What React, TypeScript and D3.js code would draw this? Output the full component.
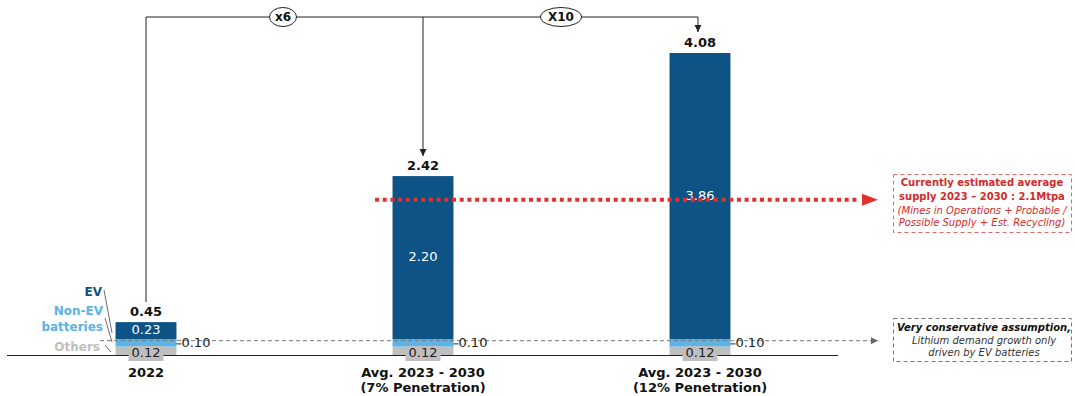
import React from "react";
import * as d3 from "d3";

// Lithium demand (Mt LCE) by segment
const categories = ["2022", "Avg. 2023 - 2030 (7%)", "Avg. 2023 - 2030 (12%)"];
const categoryLines = [["2022"], ["Avg. 2023 - 2030", "(7% Penetration)"], ["Avg. 2023 - 2030", "(12% Penetration)"]];
const others = [0.12, 0.12, 0.12];
const nonEv = [0.1, 0.1, 0.1];
const ev = [0.23, 2.2, 3.86];
const totals = [0.45, 2.42, 4.08];
const supplyLevel = 2.1;
const multipliers = ["x6", "X10"];

const W = 1075;
const H = 396;
const FONT = "'DejaVu Sans', Verdana, sans-serif";
const C_EV = "#0d5386";
const C_NONEV = "#5cb3e4";
const C_OTHERS = "#bfbfbf";
const C_RED = "#e03030";

export default function App() {
  const x = d3.scaleBand<string>().domain(categories).range([7.5, 838.5]).paddingInner(0.78).paddingOuter(0.39);
  const y = d3.scaleLinear().domain([0, 4.08]).range([355.5, 53]);
  const bw = x.bandwidth();
  const cx = (i: number) => (x(categories[i]) as number) + bw / 2;
  const fmt = d3.format(".2f");

  const hLineY = 17;
  const supplyY = y(supplyLevel);
  const dashY = y(others[0] + nonEv[0] * 0.8);

  return (
    <svg width={W} height={H} style={{ position: "absolute", left: 0, top: 0 }} fontFamily={FONT}>
      <defs>
        <marker id="arrowDark" viewBox="0 0 10 10" refX="10" refY="5" markerWidth="7" markerHeight="8" markerUnits="userSpaceOnUse" orient="auto">
          <path d="M0,0 L10,5 L0,10 Z" fill="#222" />
        </marker>
        <marker id="arrowGrey" viewBox="0 0 10 10" refX="10" refY="5" markerWidth="8" markerHeight="7" markerUnits="userSpaceOnUse" orient="auto">
          <path d="M0,0 L10,5 L0,10 Z" fill="#666" />
        </marker>
      </defs>

      {/* stacked bars */}
      {categories.map((c, i) => {
        const x0 = x(c) as number;
        const segs = [
          { v0: 0, v1: others[i], color: C_OTHERS },
          { v0: others[i], v1: others[i] + nonEv[i], color: C_NONEV },
          { v0: others[i] + nonEv[i], v1: others[i] + nonEv[i] + ev[i], color: C_EV },
        ];
        return (
          <g key={c}>
            {segs.map((s, k) => (
              <rect key={k} x={x0} y={y(s.v1)} width={bw} height={y(s.v0) - y(s.v1)} fill={s.color} />
            ))}
          </g>
        );
      })}

      {/* baseline */}
      <line x1={7} x2={838} y1={y(0)} y2={y(0)} stroke="#222" strokeWidth={1} />

      {/* grey dashed reference line */}
      <line x1={100} x2={878} y1={dashY} y2={dashY} stroke="#777" strokeWidth={1} strokeDasharray="4 3" markerEnd="url(#arrowGrey)" />

      {/* segment labels */}
      {categories.map((c, i) => {
        const x0 = x(c) as number;
        const evMid = y(others[i] + nonEv[i] + ev[i] / 2);
        const nonEvMid = y(others[i] + nonEv[i] / 2);
        return (
          <g key={"lab" + c} fontSize={13}>
            <rect x={cx(i) - 17.5} y={346} width={35} height={15} fill={C_OTHERS} />
            <text x={cx(i)} y={353.5} textAnchor="middle" dominantBaseline="middle" fill="#222">{fmt(others[i])}</text>
            <line x1={x0 + bw} x2={x0 + bw + 5} y1={nonEvMid + 1} y2={nonEvMid + 1} stroke="#222" />
            <text x={x0 + bw + 5} y={nonEvMid + 1} dominantBaseline="middle" fill="#222">{fmt(nonEv[i])}</text>
            <text x={cx(i)} y={evMid} textAnchor="middle" dominantBaseline="middle" fill="#fff">{fmt(ev[i])}</text>
            <text x={cx(i)} y={y(totals[i]) - 10} textAnchor="middle" dominantBaseline="middle" fontWeight="bold" fill="#111">{fmt(totals[i])}</text>
          </g>
        );
      })}

      {/* category labels */}
      {categoryLines.map((lines, i) => (
        <text key={"cat" + i} x={cx(i)} y={377} textAnchor="middle" fontSize={13} fontWeight="bold" fill="#111">
          {lines.map((l, k) => (
            <tspan key={k} x={cx(i)} dy={k === 0 ? 0 : 15}>{l}</tspan>
          ))}
        </text>
      ))}

      {/* red dotted supply line */}
      <line x1={375} x2={860} y1={supplyY} y2={supplyY} stroke={C_RED} strokeWidth={4} strokeDasharray="4 3.7" />
      <path d={`M862,${supplyY - 6} L878,${supplyY} L862,${supplyY + 6} Z`} fill={C_RED} />

      {/* growth bracket */}
      <g stroke="#222" strokeWidth={1} fill="none">
        <line x1={cx(0)} x2={cx(2) - 2} y1={hLineY} y2={hLineY} />
        <line x1={cx(0)} x2={cx(0)} y1={hLineY} y2={302} />
        <line x1={cx(1)} x2={cx(1)} y1={hLineY} y2={y(totals[1]) - 20} markerEnd="url(#arrowDark)" />
        <line x1={cx(2) - 2} x2={cx(2) - 2} y1={hLineY} y2={y(totals[2]) - 21} markerEnd="url(#arrowDark)" />
      </g>
      <g fontSize={12} fontWeight="bold" fill="#111">
        <ellipse cx={283} cy={hLineY} rx={13.5} ry={9.5} fill="#fff" stroke="#222" />
        <text x={283} y={hLineY + 0.5} textAnchor="middle" dominantBaseline="middle">{multipliers[0]}</text>
        <ellipse cx={561} cy={hLineY} rx={20.5} ry={9.5} fill="#fff" stroke="#222" />
        <text x={561} y={hLineY + 0.5} textAnchor="middle" dominantBaseline="middle">{multipliers[1]}</text>
      </g>

      {/* segment legend */}
      <g fontSize={12} fontWeight="bold" textAnchor="end">
        <text x={102} y={292} dominantBaseline="middle" fill={C_EV}>EV</text>
        <text x={103} y={311} dominantBaseline="middle" fill={C_NONEV}>Non-EV</text>
        <text x={103} y={327} dominantBaseline="middle" fill={C_NONEV}>batteries</text>
        <text x={100} y={347} dominantBaseline="middle" fill={C_OTHERS}>Others</text>
      </g>
      <g stroke="#444" strokeWidth={0.8}>
        <line x1={104} y1={290} x2={112} y2={333} />
        <line x1={105} y1={318} x2={112} y2={342} />
        <line x1={105} y1={345} x2={111} y2={352} />
      </g>

      {/* supply annotation */}
      <rect x={893.5} y={174.5} width={178} height={58} fill="none" stroke="#e06a6a" strokeDasharray="4 3" />
      <g fontSize={10} textAnchor="middle" fill="#d42a2a">
        <text x={982} y={183} dominantBaseline="middle" fontWeight="bold">Currently estimated average</text>
        <text x={982} y={197} dominantBaseline="middle" fontWeight="bold">supply 2023 – 2030 : 2.1Mtpa</text>
        <text x={982} y={210.5} dominantBaseline="middle" fontStyle="italic">(Mines in Operations + Probable /</text>
        <text x={982} y={223} dominantBaseline="middle" fontStyle="italic">Possible Supply + Est. Recycling)</text>
      </g>

      {/* assumption annotation */}
      <rect x={893.5} y={318.5} width={178} height={43} fill="none" stroke="#777" strokeDasharray="4 3" />
      <g fontSize={10} textAnchor="middle" fill="#333" fontStyle="italic">
        <text x={984} y={328} dominantBaseline="middle" fontWeight="bold" fill="#111">Very conservative assumption,</text>
        <text x={984} y={341} dominantBaseline="middle">Lithium demand growth only</text>
        <text x={984} y={353} dominantBaseline="middle">driven by EV batteries</text>
      </g>
    </svg>
  );
}
